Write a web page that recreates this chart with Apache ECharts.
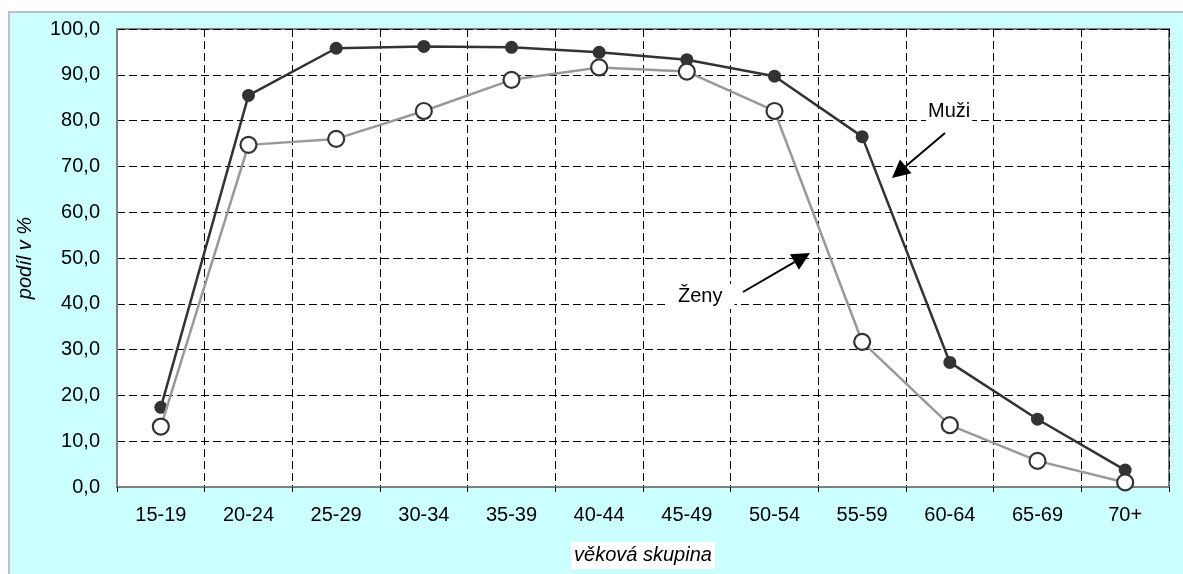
<!DOCTYPE html>
<html>
<head>
<meta charset="utf-8">
<script src="https://cdn.jsdelivr.net/npm/echarts@6/dist/echarts.min.js"></script>
<style>
html,body{margin:0;padding:0;background:#fff;}
#chart{width:1183px;height:574px;}
</style>
</head>
<body>
<div id="chart"></div>
<script>
const categories = ['15-19','20-24','25-29','30-34','35-39','40-44','45-49','50-54','55-59','60-64','65-69','70+'];
const muzi = [17.4, 85.5, 95.8, 96.2, 96.0, 94.9, 93.3, 89.7, 76.5, 27.2, 14.8, 3.7];
const zeny = [13.2, 74.7, 76.0, 82.1, 88.9, 91.6, 90.7, 82.1, 31.7, 13.5, 5.7, 1.0];
const yTicks = {min: 0, max: 100, interval: 10};

const FONT = '"Liberation Sans", Arial, sans-serif';

function arrow(x1, y1, x2, y2, len, half) {
  const dx = x2 - x1, dy = y2 - y1;
  const d = Math.sqrt(dx*dx + dy*dy);
  const ux = dx / d, uy = dy / d;
  const bx = x2 - ux*len, by = y2 - uy*len;
  const px = -uy, py = ux;
  return [
    {type:'line', shape:{x1:x1, y1:y1, x2:bx, y2:by}, style:{stroke:'#000', lineWidth:2}, z:100},
    {type:'polygon', shape:{points:[[x2,y2],[bx+px*half,by+py*half],[bx-px*half,by-py*half]]}, style:{fill:'#000'}, z:100}
  ];
}

const chart = echarts.init(document.getElementById('chart'), null, {renderer:'canvas'});
const option = {
  animation: false,
  backgroundColor: '#fff',
  textStyle: {fontFamily: FONT},
  graphic: [
    {type:'rect', shape:{x:9, y:12, width:1200, height:600}, style:{fill:'#CCFFFF', stroke:'#C0C0C0', lineWidth:2}, z:-10, silent:true},
    {type:'text', left: 926, top: 100, style:{text:'Muži', font:'20px ' + FONT, fill:'#000', backgroundColor:'#fff', padding:[1,2]}, z:100},
    {type:'text', left: 666, top: 284, style:{text:'Ženy', font:'20px ' + FONT, fill:'#000', backgroundColor:'#fff', padding:[2,12,3,12]}, z:100}
  ].concat(arrow(945,133,892,178,18,9)).concat(arrow(743,292,810,253,18,9)),
  grid: {left: 117, top: 29, right: 14, bottom: 87, show: true, backgroundColor:'#fff', borderColor:'#808080', borderWidth: 2},
  xAxis: {
    type: 'category',
    data: categories,
    boundaryGap: true,
    axisLine: {show: true, lineStyle: {color: '#808080', width: 2}},
    axisTick: {show: true, alignWithLabel: false, length: 5, lineStyle: {color: '#000'}},
    axisLabel: {fontSize: 20, color: '#000', margin: 18, fontFamily: FONT},
    splitLine: {show: true, lineStyle: {color: '#000', type: [8,4], width: 1}},
    name: 'věková skupina',
    nameLocation: 'middle',
    nameGap: 55,
    nameTextStyle: {fontSize: 20, fontStyle: 'italic', color: '#000', backgroundColor: '#fff', padding: [3,3,4,3], fontFamily: FONT}
  },
  yAxis: {
    type: 'value',
    min: yTicks.min, max: yTicks.max, interval: yTicks.interval,
    axisLine: {show: true, lineStyle: {color: '#808080', width: 2}},
    axisTick: {show: false},
    axisLabel: {fontSize: 20, color: '#000', margin: 17, fontFamily: FONT,
      formatter: v => v.toFixed(1).replace('.', ',')},
    splitLine: {show: true, lineStyle: {color: '#000', type: [8,4], width: 1}},
    name: 'podíl v %',
    nameLocation: 'middle',
    nameGap: 82,
    nameTextStyle: {fontSize: 20, fontStyle: 'italic', color: '#000', fontFamily: FONT}
  },
  series: [
    {
      name: 'Ženy', type: 'line', data: zeny,
      symbol: 'circle', symbolSize: 16, showAllSymbol: true,
      lineStyle: {color: '#999999', width: 2.5},
      itemStyle: {color: '#fff', borderColor: '#333', borderWidth: 2.2},
      z: 3
    },
    {
      name: 'Muži', type: 'line', data: muzi,
      symbol: 'circle', symbolSize: 13, showAllSymbol: true,
      lineStyle: {color: '#333333', width: 2.5},
      itemStyle: {color: '#333333', borderColor: '#333333', borderWidth: 0},
      z: 2
    }
  ]
};
chart.setOption(option);
</script>
</body>
</html>
